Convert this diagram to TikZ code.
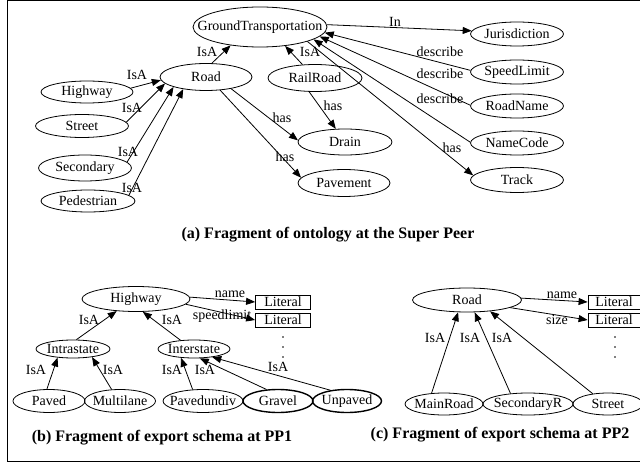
\documentclass[tikz,border=0pt]{standalone}
\usepackage{fontspec}
\setmainfont{Liberation Serif}
\usetikzlibrary{shapes.geometric,arrows.meta}
\begin{document}
\begin{tikzpicture}[x=1pt,y=-1pt,
  font=\fontsize{14}{16}\selectfont,
  el/.style n args={2}{draw, ellipse, inner sep=0pt, line width=0.8pt, minimum width=#1pt, minimum height=#2pt},
  thick el/.style={line width=1.4pt},
  lit/.style={draw, rectangle, inner sep=0pt, line width=0.8pt, minimum width=55pt, minimum height=14pt},
  arr/.style={-{Triangle[length=9pt,width=7pt]}, line width=0.8pt},
  lab/.style={inner sep=0pt},
  ttl/.style={font=\fontsize{16}{19}\bfseries\selectfont, inner sep=0pt},
  dot/.style={circle, fill, inner sep=0pt, minimum size=1.6pt}
]
\useasboundingbox (0,0) rectangle (640,465);
\clip (0,0) rectangle (640,465);
\draw[line width=1pt] (660,1) -- (7,1) -- (7,461) -- (660,461);

% ---------- (a) ----------
\node[el={134}{40}, label={center:GroundTransportation}] (gt) at (260,27) {};
\node[el={92}{27}, label={center:Road}] (road) at (206,77) {};
\node[el={94}{27}, label={center:RailRoad}] (rail) at (315,78) {};
\node[el={92}{22}, label={center:Highway}] (hwy) at (87,92) {};
\node[el={93}{23}, label={center:Street}] (street) at (82,126) {};
\node[el={93}{26}, label={center:Secondary}] (secondary) at (85,168) {};
\node[el={94}{22}, label={center:Pedestrian}] (ped) at (88,201) {};
\node[el={94}{26}, label={center:Drain}] (drain) at (345,142) {};
\node[el={92}{27}, label={center:Pavement}] (pave) at (344,183) {};
\node[el={93}{24}, label={center:Jurisdiction}] (juris) at (517,34) {};
\node[el={93}{24}, label={center:SpeedLimit}] (speed) at (517,72) {};
\node[el={93}{24}, label={center:RoadName}] (rname) at (517,106) {};
\node[el={93}{24}, label={center:NameCode}] (ncode) at (517,143) {};
\node[el={93}{25}, label={center:Track}] (track) at (517,180) {};

\draw[arr] (road.67) -- (gt.212);
\draw[arr] (rail.133) -- (gt.323);
\draw[arr] (hwy.5) -- (road.184);
\draw[arr] (street.5) -- (road.189);
\draw[arr] (secondary.8) -- (road.197);
\draw[arr] (ped.8) -- (road.208);
\draw[arr] (road.335) -- (drain.178);
\draw[arr] (road.317) -- (pave.173);
\draw[arr] (rail.247) -- (drain.125);
\draw[arr] (gt.2) -- (juris.176);
\draw[arr] (speed.178) -- (gt.355);
\draw[arr] (rname.179) -- (gt.351);
\draw[arr] (ncode.179) -- (gt.347);
\draw[arr] (gt.343) -- (track.174);

\node[lab] (l1) at (207,52) {IsA};
\node[lab] (l2) at (310,52) {IsA};
\node[lab] (l3) at (137,75) {IsA};
\node[lab] (l4) at (132,108) {IsA};
\node[lab] (l5) at (128,152) {IsA};
\node[lab] (l6) at (132,188) {IsA};
\node[lab] (l7) at (282,118) {has};
\node[lab] (l8) at (285,157) {has};
\node[lab] (l9) at (333,106) {has};
\node[lab] (l10) at (395,22) {In};
\node[lab] (l11) at (440,52) {describe};
\node[lab] (l12) at (440,74) {describe};
\node[lab] (l13) at (440,99) {describe};
\node[lab] (l14) at (452,148) {has};

\node[ttl] (ta) at (328,235) {(a) Fragment of ontology at the Super Peer};

% ---------- (b) ----------
\node[el={108}{25}, label={center:Highway}] (hwyb) at (136,299) {};
\node[lit] (litb1) at (283,302) {Literal};
\node[lit] (litb2) at (283,320) {Literal};
\node[dot] (db1) at (283,337) {};
\node[dot] (db2) at (283,347) {};
\node[dot] (db3) at (283,357) {};
\node[el={74}{18}, label={center:Intrastate}] (intra) at (73,349) {};
\node[el={72}{18}, label={center:Interstate}] (inter) at (194,349) {};
\node[el={72}{23}, label={center:Paved}] (paved) at (49,401) {};
\node[el={71}{23}, label={center:Multilane}] (multi) at (120,401) {};
\node[el={80}{23}, label={center:Pavedundiv}] (pdiv) at (203,401) {};
\node[el={70}{23}, thick el, label={center:Gravel}] (gravel) at (278,401) {};
\node[el={69}{23}, thick el, label={center:Unpaved}] (unpaved) at (347,401) {};

\draw[arr] (intra.70) -- (hwyb.212);
\draw[arr] (inter.147) -- (hwyb.298);
\draw[arr] (hwyb.2) -- (litb1.west);
\draw[arr] (hwyb.354) -- (litb2.west);
\draw[arr] (paved.100) -- (intra.209);
\draw[arr] (multi.126) -- (intra.337);
\draw[arr] (pdiv.132) -- (inter.214);
\draw[arr] (gravel.135) -- (inter.302);
\draw[arr] (unpaved.147) -- (inter.336);

\node[lab] (m1) at (89,320) {IsA};
\node[lab] (m2) at (172,320) {IsA};
\node[lab] (m3) at (230,294) {name};
\node[lab] (m4) at (222,316) {speedlimit};
\node[lab] (m5) at (36,370) {IsA};
\node[lab] (m6) at (113,370) {IsA};
\node[lab] (m7) at (172,370) {IsA};
\node[lab] (m8) at (205,370) {IsA};
\node[lab] (m9) at (278,367) {IsA};

\node[ttl] (tb) at (162,438) {(b) Fragment of export schema at PP1};

% ---------- (c) ----------
\node[el={109}{24}, label={center:Road}] (roadc) at (467,300) {};
\node[lit, minimum width=52pt] (litc1) at (614,302) {Literal};
\node[lit, minimum width=52pt] (litc2) at (614,320) {Literal};
\node[dot] (dc1) at (615,337) {};
\node[dot] (dc2) at (615,347) {};
\node[dot] (dc3) at (615,357) {};
\node[el={78}{22}, label={center:MainRoad}] (mainr) at (444,404) {};
\node[el={90}{22}, label={center:SecondaryR}] (secr) at (528,404) {};
\node[el={70}{22}, label={center:Street}] (streetc) at (608,404) {};

\draw[arr] (roadc.2) -- (litc1.west);
\draw[arr] (roadc.350) -- (litc2.west);
\draw[arr] (mainr.139) -- (roadc.234);
\draw[arr] (secr.149) -- (roadc.302);
\draw[arr] (streetc.146) -- (roadc.334);

\node[lab] (n1) at (562,295) {name};
\node[lab] (n2) at (557,320) {size};
\node[lab] (n3) at (435,338) {IsA};
\node[lab] (n4) at (470,338) {IsA};
\node[lab] (n5) at (502,338) {IsA};

\node[ttl] (tc) at (500,435) {(c) Fragment of export schema at PP2};
\end{tikzpicture}
\end{document}
